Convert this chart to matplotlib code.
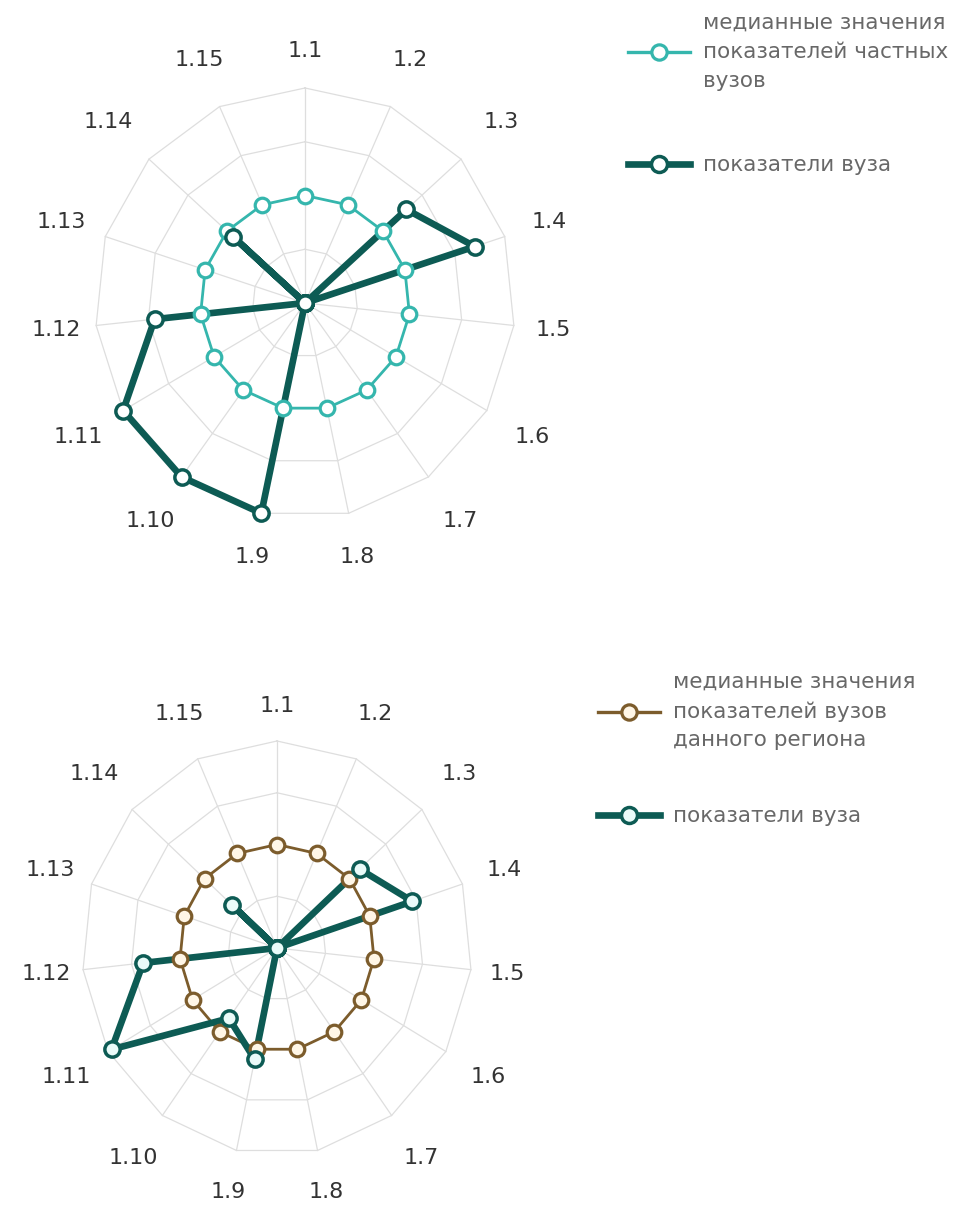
import numpy as np
import matplotlib.pyplot as plt
from matplotlib.lines import Line2D

W, H = 956, 1209

labels = ['1.1', '1.2', '1.3', '1.4', '1.5', '1.6', '1.7', '1.8',
          '1.9', '1.10', '1.11', '1.12', '1.13', '1.14', '1.15']

# верхний график: частные вузы
median_private = [0.5, 0.5, 0.5, 0.5, 0.5, 0.5, 0.5, 0.5,
                  0.5, 0.5, 0.5, 0.5, 0.5, 0.5, 0.5]
uni_top = [0, 0, 0.65, 0.85, 0, 0, 0, 0, 1.0, 1.0, 1.0, 0.72, 0, 0.46, 0]

# нижний график: вузы региона
median_region = [0.5, 0.5, 0.5, 0.5, 0.5, 0.5, 0.5, 0.5,
                 0.5, 0.5, 0.5, 0.5, 0.5, 0.5, 0.5]
uni_bottom = [0, 0, 0.57, 0.73, 0, 0, 0, 0, 0.55, 0.42, 0.98, 0.69, 0, 0.31, 0]

names_top = ['медианные значения\nпоказателей частных\nвузов', 'показатели вуза']
names_bottom = ['медианные значения\nпоказателей вузов\nданного региона', 'показатели вуза']

grid_levels = [0.25, 0.5, 0.75, 1.0]

c_cyan = '#35b6ad'
c_dark = '#0d5b54'
c_brown = '#7c5c2c'
c_grid = '#dedede'

plt.rcParams['font.family'] = 'DejaVu Sans'

fig = plt.figure(figsize=(W / 100, H / 100), dpi=100)


def px_rect(cx, cy, rx, ry):
    # прямоугольник осей в долях фигуры по центру и полуосям в пикселях
    return [(cx - rx) / W, 1 - (cy + ry) / H, 2 * rx / W, 2 * ry / H]


def radar(rect, med, uni, med_color, med_face, uni_face, names, leg_xy, leg_sp):
    ax = fig.add_axes(rect, projection='polar')
    ax.set_aspect('auto')
    ax.set_theta_zero_location('N')
    ax.set_theta_direction(-1)
    ax.set_ylim(0, 1)
    ax.grid(False)
    ax.spines['polar'].set_visible(False)
    ax.set_xticks([])
    ax.set_yticks([])

    theta = np.linspace(0, 2 * np.pi, len(labels), endpoint=False)
    tc = np.append(theta, theta[0])

    # многоугольная сетка
    for lv in grid_levels:
        ax.plot(tc, [lv] * len(tc), color=c_grid, lw=0.9, zorder=1, clip_on=False)
    for t in theta:
        ax.plot([t, t], [0, 1], color=c_grid, lw=0.9, zorder=1, clip_on=False)

    for t, lab in zip(theta, labels):
        r = 1.17 + 0.09 * abs(np.sin(2 * t))
        ax.text(t, r, lab, ha='center', va='center', fontsize=16, color='#333333')

    m = np.append(med, med[0])
    u = np.append(uni, uni[0])
    ax.plot(tc, m, color=med_color, lw=2, zorder=2, clip_on=False)
    ax.plot(tc, u, color=c_dark, lw=4.8, zorder=2, clip_on=False,
            solid_joinstyle='round', solid_capstyle='round')
    ax.plot(theta, med, 'o', ms=10.5, mfc=med_face, mec=med_color, mew=2.3,
            zorder=3, clip_on=False)
    ax.plot(theta, uni, 'o', ms=11, mfc=uni_face, mec=c_dark, mew=2.5,
            zorder=4, clip_on=False)

    handles = [
        Line2D([], [], color=med_color, lw=2.4, marker='o', ms=11,
               mfc=med_face, mec=med_color, mew=2.3),
        Line2D([], [], color=c_dark, lw=4.8, marker='o', ms=11.5,
               mfc=uni_face, mec=c_dark, mew=2.5),
    ]
    leg = ax.legend(handles, names, loc='upper left',
                    bbox_to_anchor=(leg_xy[0] / W, 1 - leg_xy[1] / H),
                    bbox_transform=fig.transFigure, frameon=False,
                    fontsize=15.5, labelcolor='#686868', handlelength=2.9,
                    handletextpad=0.6, labelspacing=leg_sp,
                    borderpad=0, borderaxespad=0)
    for txt in leg.get_texts():
        txt.set_linespacing(1.55)
    return ax


radar(px_rect(305, 303, 210, 215), median_private, uni_top,
      c_cyan, 'white', 'white', names_top, (628, 13), 3.0)
radar(px_rect(277, 948, 195, 207), median_region, uni_bottom,
      c_brown, '#fff6e6', '#eafbf9', names_bottom, (598, 672), 2.6)

fig.savefig('out.png', dpi=100, facecolor='white')
